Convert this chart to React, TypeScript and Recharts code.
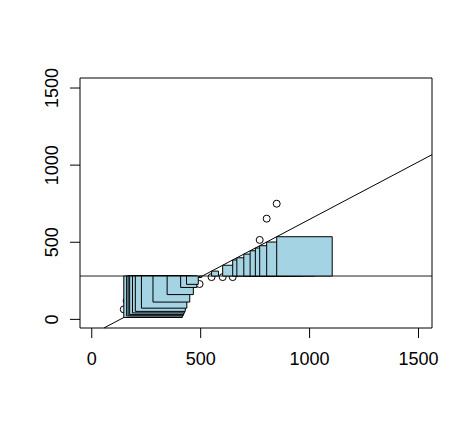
import React from 'react';
import { ScatterChart, Scatter, XAxis, YAxis, ReferenceArea, ReferenceLine } from 'recharts';

// Observations (x, y)
const xValues = [147, 160, 167, 174, 187, 200, 228, 281, 346, 408, 435, 495, 550, 601, 647, 666, 698, 727, 751, 771, 803, 849];
const yValues = [65, 120, 150, 100, 180, 140, 200, 170, 230, 250, 245, 229, 274, 274, 274, 330, 360, 380, 410, 515, 653, 750];

// Fitted regression line and mean of y
const intercept = -97.5;
const slope = 0.746;
const meanY = 281;

const xTicks = [0, 500, 1000, 1500];
const yTicks = [0, 500, 1000, 1500];
const xDomain = [-54, 1562];
const yDomain = [-56, 1565];

const points = xValues.map((x, i) => ({ x, y: yValues[i] }));
const squares = xValues.map((x) => {
  const fit = intercept + slope * x;
  const side = Math.abs(fit - meanY);
  return { x1: x, x2: x + side, y1: Math.min(fit, meanY), y2: Math.max(fit, meanY) };
});

const lineStartX = Math.max(xDomain[0], (yDomain[0] - intercept) / slope);
const lineEndX = xDomain[1];
const regSegment = [
  { x: lineStartX, y: intercept + slope * lineStartX },
  { x: lineEndX, y: intercept + slope * lineEndX },
];

const FONT = "'Liberation Sans', Arial, sans-serif";

const YTick = (props: any) => {
  const { x, y, payload } = props;
  return (
    <text x={x} y={y} transform={`rotate(-90, ${x}, ${y})`} textAnchor="middle" fontSize={18} fontFamily={FONT} fill="#000">
      {payload.value}
    </text>
  );
};

const Circle = (props: any) => {
  const { cx, cy } = props;
  return <circle cx={cx} cy={cy} r={3.5} fill="none" stroke="#000" strokeWidth={1} />;
};

export default function App() {
  return (
    <div style={{ position: 'absolute', left: 0, top: 0, width: 472, height: 427, background: '#fff' }}>
      <ScatterChart width={472} height={427} margin={{ top: 78, right: 40, left: 0, bottom: 0 }}>
        <XAxis
          dataKey="x"
          type="number"
          domain={xDomain}
          ticks={xTicks}
          allowDataOverflow
          axisLine={false}
          tickLine={{ stroke: '#000' }}
          tickSize={10}
          tickMargin={14}
          height={99}
          tick={{ fontSize: 18, fontFamily: FONT, fill: '#000' }}
        />
        <YAxis
          dataKey="y"
          type="number"
          domain={yDomain}
          ticks={yTicks}
          allowDataOverflow
          axisLine={false}
          tickLine={{ stroke: '#000' }}
          tickSize={10}
          tickMargin={12}
          width={80}
          tick={<YTick />}
        />
        <Scatter data={points} shape={<Circle />} isAnimationActive={false} {...({ zIndex: 100 } as any)} />
        <ReferenceLine y={meanY} stroke="#222" strokeWidth={1} {...({ zIndex: 200 } as any)} />
        <ReferenceLine segment={regSegment} stroke="#000" strokeWidth={1} {...({ zIndex: 200 } as any)} />
        {squares.map((s, i) => (
          <ReferenceArea
            key={i}
            x1={s.x1}
            x2={s.x2}
            y1={s.y1}
            y2={s.y2}
            fill="#a4d3e3"
            fillOpacity={1}
            stroke="#000"
            strokeWidth={1}
            {...({ zIndex: 700 } as any)}
          />
        ))}
        <ReferenceArea
          x1={xDomain[0]}
          x2={xDomain[1]}
          y1={yDomain[0]}
          y2={yDomain[1]}
          fill="none"
          fillOpacity={0}
          stroke="#000"
          strokeWidth={1}
          {...({ zIndex: 800 } as any)}
        />
      </ScatterChart>
    </div>
  );
}
